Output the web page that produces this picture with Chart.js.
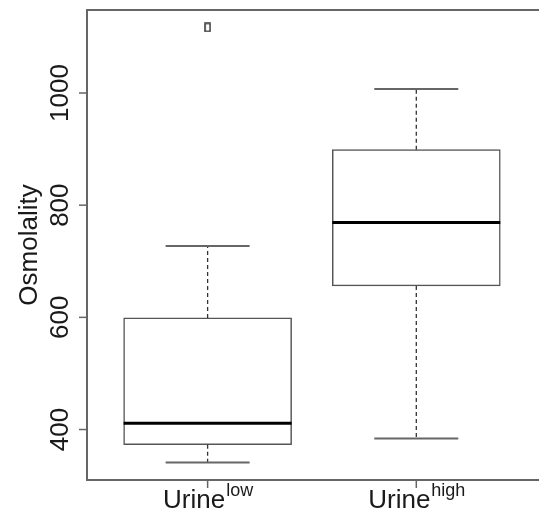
<!DOCTYPE html>
<html lang="en">
<head>
  <meta charset="UTF-8" />
  <title>Osmolality</title>
  <script src="https://cdn.jsdelivr.net/npm/chart.js@4.4.0/dist/chart.umd.min.js"></script>
  <style>
    html, body { margin: 0; padding: 0; background: #fff; overflow: hidden; }
  </style>
</head>
<body>
  <canvas id="box" width="539" height="512"></canvas>

  <script>
    // values
    const groups = ['low', 'high'];
    const whiskerLow = [341, 384];
    const q1 = [373, 656];
    const median = [411, 769];
    const q3 = [599, 899];
    const whiskerHigh = [727, 1007];
    const outliers = [[1117], []];
    const yTicks = [400, 600, 800, 1000];

    const FONT = '"Liberation Sans", Arial, sans-serif';

    // little open marker for outliers
    function outlierMarker() {
      const c = document.createElement('canvas');
      c.width = 7; c.height = 10;
      const g = c.getContext('2d');
      g.strokeStyle = '#333';
      g.lineWidth = 1.5;
      g.strokeRect(1, 1, 5, 8);
      return c;
    }

    const boxParts = {
      id: 'boxParts',
      afterDatasetsDraw(chart) {
        const ctx = chart.ctx;
        const x = chart.scales.x, y = chart.scales.y;
        const capHalf = 42;
        ctx.save();
        groups.forEach((g, i) => {
          const cx = x.getPixelForValue(i + 1);
          // dashed whiskers
          ctx.strokeStyle = '#333';
          ctx.lineWidth = 1.3;
          ctx.setLineDash([4, 3]);
          ctx.beginPath();
          ctx.moveTo(cx, y.getPixelForValue(q3[i]));
          ctx.lineTo(cx, y.getPixelForValue(whiskerHigh[i]));
          ctx.moveTo(cx, y.getPixelForValue(q1[i]));
          ctx.lineTo(cx, y.getPixelForValue(whiskerLow[i]));
          ctx.stroke();
          ctx.setLineDash([]);
          // caps
          ctx.strokeStyle = '#666';
          ctx.lineWidth = 2;
          ctx.beginPath();
          [whiskerHigh[i], whiskerLow[i]].forEach(v => {
            const py = y.getPixelForValue(v);
            ctx.moveTo(cx - capHalf, py);
            ctx.lineTo(cx + capHalf, py);
          });
          ctx.stroke();
          // median
          const bar = chart.getDatasetMeta(0).data[i];
          const half = bar.width / 2;
          ctx.strokeStyle = '#000';
          ctx.lineWidth = 3;
          ctx.beginPath();
          const my = y.getPixelForValue(median[i]);
          ctx.moveTo(cx - half, my);
          ctx.lineTo(cx + half, my);
          ctx.stroke();
        });
        ctx.restore();
      },
      afterDraw(chart) {
        const ctx = chart.ctx;
        const a = chart.chartArea;
        const x = chart.scales.x, y = chart.scales.y;
        ctx.save();
        // frame (right side falls outside the picture)
        ctx.strokeStyle = '#666';
        ctx.lineWidth = 2;
        ctx.beginPath();
        ctx.moveTo(a.right + 5, a.top);
        ctx.lineTo(a.left, a.top);
        ctx.lineTo(a.left, a.bottom);
        ctx.lineTo(a.right + 5, a.bottom);
        ctx.stroke();

        // y ticks and rotated labels
        ctx.lineWidth = 1.5;
        ctx.fillStyle = '#1a1a1a';
        ctx.font = '26px ' + FONT;
        ctx.textAlign = 'center';
        ctx.textBaseline = 'alphabetic';
        yTicks.forEach(v => {
          const py = y.getPixelForValue(v);
          ctx.beginPath();
          ctx.moveTo(a.left, py);
          ctx.lineTo(a.left - 8, py);
          ctx.stroke();
          ctx.save();
          ctx.translate(68, py);
          ctx.rotate(-Math.PI / 2);
          ctx.fillText(String(v), 0, 0);
          ctx.restore();
        });

        // y title
        ctx.save();
        ctx.translate(37, (a.top + a.bottom) / 2);
        ctx.rotate(-Math.PI / 2);
        ctx.fillText('Osmolality', 0, 0);
        ctx.restore();

        // x ticks and labels with superscripts
        groups.forEach((g, i) => {
          const cx = x.getPixelForValue(i + 1);
          ctx.beginPath();
          ctx.moveTo(cx, a.bottom);
          ctx.lineTo(cx, a.bottom + 8);
          ctx.stroke();
          ctx.font = '26px ' + FONT;
          const w1 = ctx.measureText('Urine').width;
          ctx.font = '18px ' + FONT;
          const w2 = ctx.measureText(g).width;
          const left = cx - (w1 + w2) / 2;
          ctx.textAlign = 'left';
          ctx.font = '26px ' + FONT;
          ctx.fillText('Urine', left, 508);
          ctx.font = '18px ' + FONT;
          ctx.fillText(g, left + w1 + 1, 496);
        });
        ctx.restore();
      }
    };

    new Chart(document.getElementById('box'), {
      type: 'bar',
      data: {
        datasets: [
          {
            data: groups.map((g, i) => ({ x: i + 1, y: [q1[i], q3[i]] })),
            backgroundColor: '#fff',
            borderColor: '#555',
            borderWidth: 1.5,
            borderSkipped: false,
            barThickness: 168
          },
          {
            type: 'scatter',
            data: outliers.flatMap((list, i) => list.map(v => ({ x: i + 1, y: v }))),
            pointStyle: outlierMarker(),
            pointRadius: 4
          }
        ]
      },
      options: {
        responsive: false,
        animation: false,
        layout: { padding: { left: 87, top: 10, bottom: 32, right: 0 } },
        plugins: { legend: { display: false }, tooltip: { enabled: false } },
        scales: {
          x: { type: 'linear', offset: false, min: 0.422, max: 2.564, display: false },
          y: { min: 310, max: 1148, display: false }
        }
      },
      plugins: [boxParts]
    });
  </script>
</body>
</html>
